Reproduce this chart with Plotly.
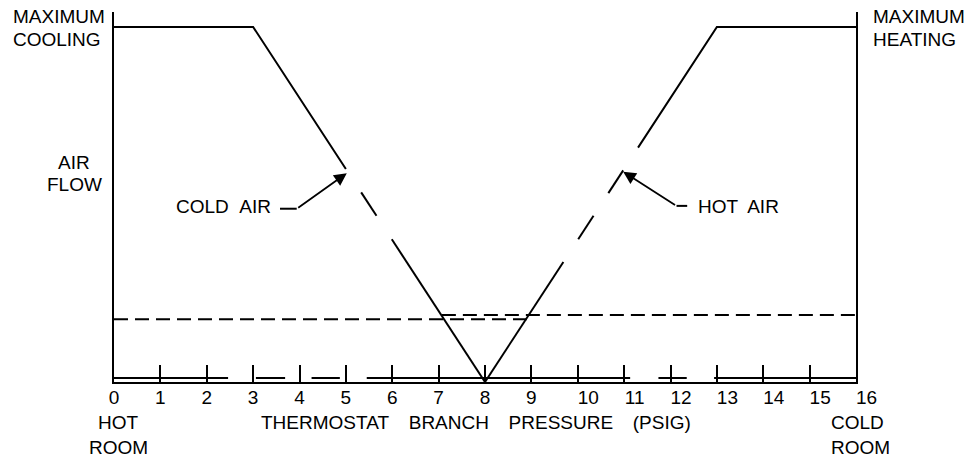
import plotly.graph_objects as go

# ---------------- data (x: thermostat branch pressure, psig; y: relative air flow, 0..100) -------------
cold_x = [0, 3, 5.0, None, 5.33, 5.66, None, 5.99, 8]
cold_y = [100, 100, 60, None, 53.4, 46.8, None, 40.2, 0]

hot_x = [8, 9.69, None, 10.01, 10.34, None, 10.66, 10.98, None, 11.3, 13, 16]
hot_y = [0, 33.8, None, 40.2, 46.8, None, 53.2, 59.6, None, 66.0, 100, 100]

min_cold_x = [0, 8.9]
min_cold_y = [17.7, 17.7]
min_hot_x = [7.07, 16]
min_hot_y = [18.9, 18.9]

base_x = [0, 2.46, None, 3.06, 3.69, None, 4.26, 4.87, None, 5.45, 11.13, None, 11.74, 12.35, None, 12.94, 16]
base_y = [1.13, 1.13, None, 1.13, 1.13, None, 1.13, 1.13, None, 1.13, 1.13, None, 1.13, 1.13, None, 1.13, 1.13]

tick_vals = list(range(0, 17))
tick_text = [str(v) for v in tick_vals]

# arrows: (tip x, tip y, knee x, knee y, leader end x)
cold_arrow = dict(tip=(5.02, 58.8), knee=(3.94, 48.8), lead_end=3.58)
hot_arrow = dict(tip=(10.98, 59.2), knee=(12.13, 49.6), lead_end=12.36)

# ---------------- layout constants ----------------
W, H = 967, 459
L, R, T, B = 114, 856, 12, 382
FONT = "Liberation Sans, Arial, sans-serif"
FS = 19
LW = 2
FIG_SP = "\u2007"
NB = "\u00a0"
THIN = "\u2009"
GAP = NB * 3 + THIN

def px2paper(px, py):
    return (px - L) / (R - L), (B - py) / (B - T)

# two-digit tick labels start at their tick in the drawing
tick_disp = [t if len(t) == 1 else FIG_SP * 2 + t for t in tick_text]

fig = go.Figure()
line_style = dict(color="black", width=LW)
fig.add_trace(go.Scatter(x=cold_x, y=cold_y, mode="lines", line=line_style, cliponaxis=False, hoverinfo="skip"))
fig.add_trace(go.Scatter(x=hot_x, y=hot_y, mode="lines", line=line_style, cliponaxis=False, hoverinfo="skip"))
fig.add_trace(go.Scatter(x=min_cold_x, y=min_cold_y, mode="lines",
                         line=dict(color="black", width=LW, dash="14px,7px"), cliponaxis=False, hoverinfo="skip"))
fig.add_trace(go.Scatter(x=min_hot_x, y=min_hot_y, mode="lines",
                         line=dict(color="black", width=LW, dash="14px,7px"), cliponaxis=False, hoverinfo="skip"))
fig.add_trace(go.Scatter(x=base_x, y=base_y, mode="lines", line=line_style, cliponaxis=False, hoverinfo="skip"))

for a in (cold_arrow, hot_arrow):
    fig.add_trace(go.Scatter(x=[a["lead_end"], a["knee"][0]], y=[a["knee"][1], a["knee"][1]],
                             mode="lines", line=line_style, cliponaxis=False, hoverinfo="skip"))
    fig.add_annotation(x=a["tip"][0], y=a["tip"][1], ax=a["knee"][0], ay=a["knee"][1],
                       xref="x", yref="y", axref="x", ayref="y", text="", showarrow=True,
                       arrowhead=2, arrowsize=1.4, arrowwidth=1.8, arrowcolor="black")

labels = [
    ("MAXIMUM", 12, 17, "left"), ("COOLING", 12, 39.5, "left"),
    ("AIR", 74, 162, "center"), ("FLOW", 74, 184, "center"),
    ("MAXIMUM", 872, 17, "left"), ("HEATING", 872, 39.5, "left"),
    ("COLD" + NB * 2 + "AIR", 175, 207, "left"), ("HOT" + NB + THIN + "AIR", 697, 207, "left"),
    ("HOT", 118.5, 422, "center"), ("ROOM", 118.5, 447, "center"),
    ("COLD", 830, 422, "left"), ("ROOM", 830, 447, "left"),
    ("THERMOSTAT" + GAP + "BRANCH" + GAP + "PRESSURE" + GAP + "(PSIG)", 260, 422, "left"),
]
for txt, px, py, anc in labels:
    xp, yp = px2paper(px, py)
    fig.add_annotation(x=xp, y=yp, xref="paper", yref="paper", text=txt, showarrow=False,
                       xanchor=anc, yanchor="middle", borderpad=0,
                       font=dict(family=FONT, size=FS, color="black"))

fig.update_layout(
    width=W, height=H,
    margin=dict(l=L, r=W - R, t=T, b=H - B, pad=0),
    paper_bgcolor="white", plot_bgcolor="white",
    showlegend=False,
    font=dict(family=FONT, size=FS, color="black"),
    xaxis=dict(range=[0, 16], showgrid=False, zeroline=False, showline=True, linecolor="black",
               linewidth=LW, ticks="inside", ticklen=17, tickwidth=LW, tickcolor="black",
               tickvals=tick_vals, ticktext=tick_disp, ticklabelstandoff=-3, tickangle=0,
               tickfont=dict(family=FONT, size=FS, color="black")),
    yaxis=dict(range=[0, 104.2], showgrid=False, zeroline=False, showline=True, mirror=True,
               linecolor="black", linewidth=LW, showticklabels=False, ticks=""),
)

fig.write_html("out.html", config={"displayModeBar": False},
               post_script="document.body.style.margin='0';document.body.style.overflow='hidden';")
